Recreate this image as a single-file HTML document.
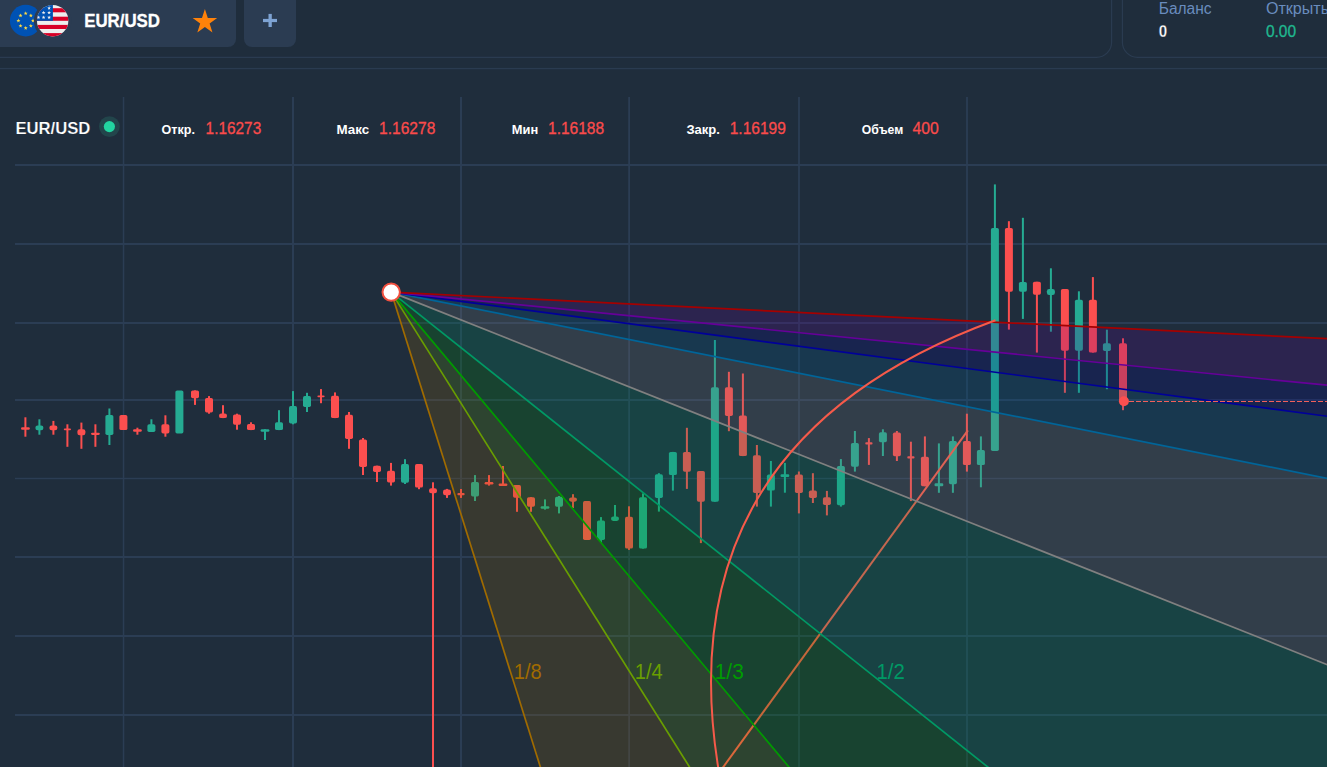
<!DOCTYPE html>
<html><head><meta charset="utf-8"><title>EUR/USD</title>
<style>
html,body{margin:0;padding:0;background:#1f2d3c;overflow:hidden}
svg{display:block}
text{font-family:"Liberation Sans",sans-serif}
</style></head><body>
<svg width="1327" height="767" viewBox="0 0 1327 767">
<rect width="1327" height="767" fill="#1f2d3c"/>

<path d="M0 0H236V39a8 8 0 0 1-8 8H0Z" fill="#2b3c52"/>
<path d="M244 0H296V39a8 8 0 0 1-8 8H252a8 8 0 0 1-8-8Z" fill="#2b3c52"/>
<path d="M-5 57.3H1096.6a15 15 0 0 0 15-15V-5" fill="none" stroke="#2a3b50" stroke-width="1.2"/>
<path d="M1122.4 -5V42.3a15 15 0 0 0 15 15H1340" fill="none" stroke="#2a3b50" stroke-width="1.2"/>
<rect x="0" y="67.9" width="1327" height="1.3" fill="#2a3b50"/>
<g>
<circle cx="25.7" cy="20.65" r="15.8" fill="#0052b4"/>
<polygon points="25.70,11.30 26.22,12.69 27.70,12.75 26.54,13.67 26.93,15.10 25.70,14.28 24.47,15.10 24.86,13.67 23.70,12.75 25.18,12.69" fill="#ffda44"/>
<polygon points="30.86,13.44 31.38,14.82 32.86,14.89 31.70,15.81 32.10,17.24 30.86,16.42 29.63,17.24 30.02,15.81 28.86,14.89 30.34,14.82" fill="#ffda44"/>
<polygon points="33.00,18.60 33.52,19.99 35.00,20.05 33.84,20.97 34.23,22.40 33.00,21.58 31.77,22.40 32.16,20.97 31.00,20.05 32.48,19.99" fill="#ffda44"/>
<polygon points="30.86,23.76 31.38,25.15 32.86,25.21 31.70,26.13 32.10,27.56 30.86,26.74 29.63,27.56 30.02,26.13 28.86,25.21 30.34,25.15" fill="#ffda44"/>
<polygon points="25.70,25.90 26.22,27.29 27.70,27.35 26.54,28.27 26.93,29.70 25.70,28.88 24.47,29.70 24.86,28.27 23.70,27.35 25.18,27.29" fill="#ffda44"/>
<polygon points="20.54,23.76 21.06,25.15 22.54,25.21 21.38,26.13 21.77,27.56 20.54,26.74 19.30,27.56 19.70,26.13 18.54,25.21 20.02,25.15" fill="#ffda44"/>
<polygon points="18.40,18.60 18.92,19.99 20.40,20.05 19.24,20.97 19.63,22.40 18.40,21.58 17.17,22.40 17.56,20.97 16.40,20.05 17.88,19.99" fill="#ffda44"/>
<polygon points="20.54,13.44 21.06,14.82 22.54,14.89 21.38,15.81 21.77,17.24 20.54,16.42 19.30,17.24 19.70,15.81 18.54,14.89 20.02,14.82" fill="#ffda44"/>
</g>
<circle cx="52.65" cy="20.7" r="18.8" fill="#2b3c52"/>
<clipPath id="us"><circle cx="52.65" cy="20.7" r="15.7"/></clipPath>
<g clip-path="url(#us)">
<rect x="36" y="4" width="34" height="34" fill="#eeeeee"/>
<rect x="36" y="8.2" width="34" height="4.10" fill="#d80027"/>
<rect x="36" y="16.7" width="34" height="4.10" fill="#d80027"/>
<rect x="36" y="24.9" width="34" height="4.10" fill="#d80027"/>
<rect x="36" y="33.1" width="34" height="4.40" fill="#d80027"/>
<rect x="36" y="4" width="16.9" height="16.8" fill="#0052b4"/>
<polygon points="49.10,6.10 49.59,7.42 51.00,7.48 49.90,8.36 50.28,9.72 49.10,8.94 47.92,9.72 48.30,8.36 47.20,7.48 48.61,7.42" fill="#eeeeee"/>
<polygon points="43.60,10.70 44.09,12.02 45.50,12.08 44.40,12.96 44.78,14.32 43.60,13.54 42.42,14.32 42.80,12.96 41.70,12.08 43.11,12.02" fill="#eeeeee"/>
<polygon points="49.10,10.70 49.59,12.02 51.00,12.08 49.90,12.96 50.28,14.32 49.10,13.54 47.92,14.32 48.30,12.96 47.20,12.08 48.61,12.02" fill="#eeeeee"/>
<polygon points="38.40,15.40 38.89,16.72 40.30,16.78 39.20,17.66 39.58,19.02 38.40,18.24 37.22,19.02 37.60,17.66 36.50,16.78 37.91,16.72" fill="#eeeeee"/>
<polygon points="43.60,15.40 44.09,16.72 45.50,16.78 44.40,17.66 44.78,19.02 43.60,18.24 42.42,19.02 42.80,17.66 41.70,16.78 43.11,16.72" fill="#eeeeee"/>
<polygon points="49.10,15.40 49.59,16.72 51.00,16.78 49.90,17.66 50.28,19.02 49.10,18.24 47.92,19.02 48.30,17.66 47.20,16.78 48.61,16.72" fill="#eeeeee"/>
</g>
<text x="84.2" y="27.1" font-size="18" font-weight="700" fill="#ffffff" stroke="#ffffff" stroke-width="0.3" textLength="75.8" lengthAdjust="spacingAndGlyphs">EUR/USD</text>
<polygon points="204.90,9.05 207.81,17.95 217.17,17.96 209.61,23.48 212.48,32.39 204.90,26.90 197.32,32.39 200.19,23.48 192.63,17.96 201.99,17.95" fill="#ff820a"/>
<rect x="263" y="18.9" width="14" height="3.2" fill="#7ea3d3"/><rect x="268.5" y="13.9" width="3.3" height="13.1" fill="#7ea3d3"/>
<text x="1158.7" y="13.8" font-size="16" fill="#698cbe" textLength="52.9" lengthAdjust="spacingAndGlyphs">Баланс</text>
<text x="1158.7" y="36.8" font-size="16" font-weight="700" fill="#ffffff" stroke="#1f2d3c" stroke-width="0.3" paint-order="fill stroke" textLength="8.4" lengthAdjust="spacingAndGlyphs">0</text>
<text x="1265.9" y="13.9" font-size="16" fill="#698cbe" textLength="66.3" lengthAdjust="spacingAndGlyphs">Открыты</text>
<text x="1265.9" y="37" font-size="16.5" fill="#1fb890" stroke="#1fb890" stroke-width="0.3" textLength="30.2" lengthAdjust="spacingAndGlyphs">0.00</text>
<rect x="122.80" y="97" width="1.5" height="670" fill="#2b3d54"/>
<rect x="292.00" y="97" width="2.0" height="670" fill="#2b3d54"/>
<rect x="460.00" y="97" width="2.0" height="670" fill="#2b3d54"/>
<rect x="628.20" y="97" width="1.8" height="670" fill="#2b3d54"/>
<rect x="798.10" y="97" width="1.8" height="670" fill="#2b3d54"/>
<rect x="966.10" y="97" width="1.8" height="670" fill="#2b3d54"/>
<rect x="15" y="164" width="1312" height="2.00" fill="#2b3d54"/>
<rect x="15" y="243" width="1312" height="2.00" fill="#2b3d54"/>
<rect x="15" y="322" width="1312" height="2.00" fill="#2b3d54"/>
<rect x="15" y="399" width="1312" height="2.00" fill="#2b3d54"/>
<rect x="15" y="477.8" width="1312" height="1.40" fill="#2b3d54"/>
<rect x="15" y="556" width="1312" height="2.00" fill="#2b3d54"/>
<rect x="15" y="635" width="1312" height="2.00" fill="#2b3d54"/>
<rect x="15" y="714" width="1312" height="2.00" fill="#2b3d54"/>
<text x="15.4" y="133.6" font-size="17" font-weight="700" fill="#ffffff" stroke="#1f2d3c" stroke-width="0.22" paint-order="fill stroke" textLength="75" lengthAdjust="spacingAndGlyphs">EUR/USD</text>
<circle cx="109.4" cy="126.6" r="10.4" fill="#22454b"/><circle cx="109.4" cy="126.6" r="5.6" fill="#22d3a0"/>
<text x="161.6" y="133.95" font-size="13" font-weight="700" fill="#ffffff" textLength="33.3" lengthAdjust="spacingAndGlyphs">Откр.</text>
<text x="205.6" y="133.95" font-size="16.6" fill="#fa4b4b" stroke="#fa4b4b" stroke-width="0.3" textLength="55.6" lengthAdjust="spacingAndGlyphs">1.16273</text>
<text x="336.4" y="133.95" font-size="13" font-weight="700" fill="#ffffff" textLength="32.7" lengthAdjust="spacingAndGlyphs">Макс</text>
<text x="379.1" y="133.95" font-size="16.6" fill="#fa4b4b" stroke="#fa4b4b" stroke-width="0.3" textLength="56.2" lengthAdjust="spacingAndGlyphs">1.16278</text>
<text x="511.8" y="133.95" font-size="13" font-weight="700" fill="#ffffff" textLength="26.4" lengthAdjust="spacingAndGlyphs">Мин</text>
<text x="548" y="133.95" font-size="16.6" fill="#fa4b4b" stroke="#fa4b4b" stroke-width="0.3" textLength="56.1" lengthAdjust="spacingAndGlyphs">1.16188</text>
<text x="686.4" y="133.95" font-size="13" font-weight="700" fill="#ffffff" textLength="33.5" lengthAdjust="spacingAndGlyphs">Закр.</text>
<text x="729.7" y="133.95" font-size="16.6" fill="#fa4b4b" stroke="#fa4b4b" stroke-width="0.3" textLength="56.1" lengthAdjust="spacingAndGlyphs">1.16199</text>
<text x="861.8" y="133.95" font-size="13" font-weight="700" fill="#ffffff" textLength="41.4" lengthAdjust="spacingAndGlyphs">Объем</text>
<text x="912.5" y="133.95" font-size="16.6" fill="#fa4b4b" stroke="#fa4b4b" stroke-width="0.3" textLength="26.3" lengthAdjust="spacingAndGlyphs">400</text>
<g>
<rect x="24.40" y="417.3" width="2" height="19.4" fill="#fb4f4f"/>
<rect x="21.00" y="427.2" width="8.8" height="2.5" rx="1.25" fill="#fb4f4f"/>
<rect x="38.40" y="419.3" width="2" height="15.4" fill="#25ab92"/>
<rect x="35.40" y="425.6" width="8" height="4.6" rx="2.2" fill="#25ab92"/>
<rect x="52.40" y="420.9" width="2" height="13.8" fill="#fb4f4f"/>
<rect x="49.40" y="425.6" width="8" height="4.6" rx="2.2" fill="#fb4f4f"/>
<rect x="66.40" y="424.3" width="2" height="22.5" fill="#fb4f4f"/>
<rect x="63.80" y="428.4" width="7.2" height="1.8" rx="0.9" fill="#fb4f4f"/>
<rect x="80.40" y="422.6" width="2" height="26.2" fill="#fb4f4f"/>
<rect x="77.40" y="429.2" width="8" height="6.0" rx="2.2" fill="#fb4f4f"/>
<rect x="94.40" y="424.3" width="2" height="22.5" fill="#fb4f4f"/>
<rect x="91.00" y="432.7" width="8.8" height="2.3" rx="1.25" fill="#fb4f4f"/>
<rect x="108.40" y="408.5" width="2" height="36.5" fill="#25ab92"/>
<rect x="105.40" y="415.1" width="8" height="19.9" rx="1.7" fill="#25ab92"/>
<rect x="119.40" y="415.1" width="8" height="15.0" rx="1.7" fill="#fb4f4f"/>
<rect x="136.40" y="427.7" width="2" height="7.0" fill="#fb4f4f"/>
<rect x="133.00" y="429.2" width="8.8" height="2.5" rx="1.25" fill="#fb4f4f"/>
<rect x="150.40" y="419.3" width="2" height="12.6" fill="#25ab92"/>
<rect x="147.40" y="424.3" width="8" height="7.6" rx="1.7" fill="#25ab92"/>
<rect x="164.40" y="415.3" width="2" height="21.4" fill="#fb4f4f"/>
<rect x="161.40" y="424.3" width="8" height="9.1" rx="1.7" fill="#fb4f4f"/>
<rect x="175.40" y="390.4" width="8" height="43.0" rx="1.7" fill="#25ab92"/>
<rect x="194.00" y="390.4" width="2" height="14.5" fill="#fb4f4f"/>
<rect x="191.00" y="390.4" width="8" height="7.9" rx="1.7" fill="#fb4f4f"/>
<rect x="208.00" y="396.1" width="2" height="17.6" fill="#fb4f4f"/>
<rect x="205.00" y="397.9" width="8" height="14.6" rx="1.7" fill="#fb4f4f"/>
<rect x="222.00" y="405.2" width="2" height="12.9" fill="#fb4f4f"/>
<rect x="219.00" y="413.5" width="8" height="4.6" rx="2.2" fill="#fb4f4f"/>
<rect x="236.00" y="413.7" width="2" height="16.0" fill="#fb4f4f"/>
<rect x="233.00" y="414.5" width="8" height="10.3" rx="1.7" fill="#fb4f4f"/>
<rect x="250.00" y="422.3" width="2" height="7.8" fill="#fb4f4f"/>
<rect x="247.00" y="423.9" width="8" height="6.2" rx="1.7" fill="#fb4f4f"/>
<rect x="264.00" y="429.2" width="2" height="10.8" fill="#25ab92"/>
<rect x="260.60" y="429.2" width="8.8" height="2.5" rx="1.25" fill="#25ab92"/>
<rect x="278.00" y="410.2" width="2" height="19.9" fill="#25ab92"/>
<rect x="275.00" y="422.3" width="8" height="7.8" rx="1.7" fill="#25ab92"/>
<rect x="292.00" y="391.1" width="2" height="33.2" fill="#25ab92"/>
<rect x="289.00" y="406.0" width="8" height="17.4" rx="1.7" fill="#25ab92"/>
<rect x="306.00" y="392.8" width="2" height="19.2" fill="#25ab92"/>
<rect x="303.00" y="396.1" width="8" height="10.9" rx="1.7" fill="#25ab92"/>
<rect x="320.00" y="389.1" width="2" height="14.1" fill="#fb4f4f"/>
<rect x="317.40" y="395.4" width="7.2" height="1.8" rx="0.9" fill="#fb4f4f"/>
<rect x="334.00" y="392.4" width="2" height="25.7" fill="#fb4f4f"/>
<rect x="331.00" y="395.7" width="8" height="22.4" rx="1.7" fill="#fb4f4f"/>
<rect x="348.00" y="412.0" width="2" height="36.8" fill="#fb4f4f"/>
<rect x="345.00" y="414.8" width="8" height="24.1" rx="1.7" fill="#fb4f4f"/>
<rect x="362.00" y="438.0" width="2" height="37.0" fill="#fb4f4f"/>
<rect x="359.00" y="439.4" width="8" height="27.6" rx="1.7" fill="#fb4f4f"/>
<rect x="376.00" y="465.7" width="2" height="16.3" fill="#fb4f4f"/>
<rect x="373.00" y="465.7" width="8" height="6.3" rx="1.7" fill="#fb4f4f"/>
<rect x="390.00" y="462.9" width="2" height="22.7" fill="#fb4f4f"/>
<rect x="387.00" y="470.8" width="8" height="11.7" rx="1.7" fill="#fb4f4f"/>
<rect x="404.00" y="459.2" width="2" height="24.8" fill="#25ab92"/>
<rect x="401.00" y="464.1" width="8" height="18.7" rx="1.7" fill="#25ab92"/>
<rect x="418.00" y="464.1" width="2" height="25.1" fill="#fb4f4f"/>
<rect x="415.00" y="464.1" width="8" height="23.5" rx="1.7" fill="#fb4f4f"/>
<rect x="432.00" y="482.3" width="2" height="284.7" fill="#fb4f4f"/>
<rect x="429.00" y="488.3" width="8" height="5.0" rx="2.2" fill="#fb4f4f"/>
<rect x="446.00" y="488.9" width="2" height="9.0" fill="#fb4f4f"/>
<rect x="443.00" y="489.6" width="8" height="5.6" rx="2.2" fill="#fb4f4f"/>
<rect x="460.00" y="489.0" width="2" height="8.9" fill="#fb4f4f"/>
<rect x="457.40" y="493.1" width="7.2" height="2.1" rx="0.9" fill="#fb4f4f"/>
<rect x="474.00" y="475.1" width="2" height="25.9" fill="#25ab92"/>
<rect x="471.00" y="481.9" width="8" height="14.5" rx="1.7" fill="#25ab92"/>
<rect x="488.00" y="475.1" width="2" height="10.5" fill="#fb4f4f"/>
<rect x="484.60" y="481.9" width="8.8" height="2.5" rx="1.25" fill="#fb4f4f"/>
<rect x="502.00" y="466.0" width="2" height="19.9" fill="#fb4f4f"/>
<rect x="498.60" y="483.4" width="8.8" height="2.5" rx="1.25" fill="#fb4f4f"/>
<rect x="516.00" y="485.1" width="2" height="26.7" fill="#fb4f4f"/>
<rect x="513.00" y="485.1" width="8" height="12.6" rx="1.7" fill="#fb4f4f"/>
<rect x="530.00" y="497.2" width="2" height="14.6" fill="#fb4f4f"/>
<rect x="527.00" y="497.2" width="8" height="9.6" rx="1.7" fill="#fb4f4f"/>
<rect x="544.00" y="499.4" width="2" height="10.2" fill="#25ab92"/>
<rect x="540.60" y="506.3" width="8.8" height="2.5" rx="1.25" fill="#25ab92"/>
<rect x="558.00" y="496.0" width="2" height="17.4" fill="#25ab92"/>
<rect x="555.00" y="496.7" width="8" height="10.1" rx="1.7" fill="#25ab92"/>
<rect x="572.00" y="494.2" width="2" height="13.8" fill="#fb4f4f"/>
<rect x="569.00" y="497.5" width="8" height="4.2" rx="2.2" fill="#fb4f4f"/>
<rect x="583.00" y="501.0" width="8" height="39.0" rx="1.7" fill="#fb4f4f"/>
<rect x="600.00" y="517.1" width="2" height="25.7" fill="#25ab92"/>
<rect x="597.00" y="520.4" width="8" height="19.6" rx="1.7" fill="#25ab92"/>
<rect x="614.00" y="505.0" width="2" height="15.9" fill="#25ab92"/>
<rect x="611.00" y="516.6" width="8" height="4.3" rx="2.2" fill="#25ab92"/>
<rect x="628.00" y="506.3" width="2" height="43.6" fill="#fb4f4f"/>
<rect x="625.00" y="516.8" width="8" height="31.8" rx="1.7" fill="#fb4f4f"/>
<rect x="642.00" y="493.4" width="2" height="55.2" fill="#25ab92"/>
<rect x="639.00" y="497.2" width="8" height="51.4" rx="1.7" fill="#25ab92"/>
<rect x="657.90" y="473.2" width="2" height="38.4" fill="#25ab92"/>
<rect x="654.90" y="474.3" width="8" height="23.7" rx="1.7" fill="#25ab92"/>
<rect x="671.90" y="451.9" width="2" height="38.7" fill="#25ab92"/>
<rect x="668.90" y="451.9" width="8" height="23.2" rx="1.7" fill="#25ab92"/>
<rect x="685.90" y="427.8" width="2" height="61.1" fill="#fb4f4f"/>
<rect x="682.90" y="451.9" width="8" height="19.9" rx="1.7" fill="#fb4f4f"/>
<rect x="699.90" y="471.0" width="2" height="72.1" fill="#fb4f4f"/>
<rect x="696.90" y="471.0" width="8" height="30.7" rx="1.7" fill="#fb4f4f"/>
<rect x="713.90" y="340.0" width="2" height="161.7" fill="#25ab92"/>
<rect x="710.90" y="387.2" width="8" height="114.5" rx="1.7" fill="#25ab92"/>
<rect x="727.90" y="371.8" width="2" height="59.4" fill="#fb4f4f"/>
<rect x="724.90" y="387.2" width="8" height="28.7" rx="1.7" fill="#fb4f4f"/>
<rect x="741.90" y="373.5" width="2" height="82.6" fill="#fb4f4f"/>
<rect x="738.90" y="415.4" width="8" height="40.7" rx="1.7" fill="#fb4f4f"/>
<rect x="755.90" y="445.0" width="2" height="61.6" fill="#fb4f4f"/>
<rect x="752.90" y="455.3" width="8" height="37.7" rx="1.7" fill="#fb4f4f"/>
<rect x="769.90" y="461.0" width="2" height="45.6" fill="#25ab92"/>
<rect x="766.90" y="474.5" width="8" height="16.1" rx="1.7" fill="#25ab92"/>
<rect x="783.90" y="462.9" width="2" height="29.8" fill="#25ab92"/>
<rect x="780.50" y="474.3" width="8.8" height="2.7" rx="1.25" fill="#25ab92"/>
<rect x="797.90" y="471.5" width="2" height="41.9" fill="#fb4f4f"/>
<rect x="794.90" y="474.5" width="8" height="18.5" rx="1.7" fill="#fb4f4f"/>
<rect x="811.90" y="473.2" width="2" height="29.8" fill="#fb4f4f"/>
<rect x="808.90" y="490.6" width="8" height="7.4" rx="1.7" fill="#fb4f4f"/>
<rect x="825.90" y="490.9" width="2" height="24.5" fill="#fb4f4f"/>
<rect x="822.90" y="497.2" width="8" height="7.8" rx="1.7" fill="#fb4f4f"/>
<rect x="839.90" y="459.1" width="2" height="47.5" fill="#25ab92"/>
<rect x="836.90" y="466.0" width="8" height="39.2" rx="1.7" fill="#25ab92"/>
<rect x="853.90" y="431.0" width="2" height="40.6" fill="#25ab92"/>
<rect x="850.90" y="443.0" width="8" height="23.8" rx="1.7" fill="#25ab92"/>
<rect x="867.90" y="438.1" width="2" height="26.8" fill="#fb4f4f"/>
<rect x="865.30" y="442.2" width="7.2" height="2.2" rx="0.9" fill="#fb4f4f"/>
<rect x="881.90" y="429.3" width="2" height="26.7" fill="#25ab92"/>
<rect x="878.90" y="432.3" width="8" height="9.9" rx="1.7" fill="#25ab92"/>
<rect x="895.90" y="431.0" width="2" height="30.0" fill="#fb4f4f"/>
<rect x="892.90" y="432.6" width="8" height="23.7" rx="1.7" fill="#fb4f4f"/>
<rect x="909.90" y="441.7" width="2" height="59.4" fill="#fb4f4f"/>
<rect x="907.30" y="456.3" width="7.2" height="2.2" rx="0.9" fill="#fb4f4f"/>
<rect x="923.90" y="436.4" width="2" height="49.8" fill="#fb4f4f"/>
<rect x="920.90" y="456.8" width="8" height="29.4" rx="1.7" fill="#fb4f4f"/>
<rect x="937.90" y="443.4" width="2" height="49.4" fill="#25ab92"/>
<rect x="934.50" y="483.3" width="8.8" height="2.9" rx="1.25" fill="#25ab92"/>
<rect x="951.90" y="436.4" width="2" height="56.4" fill="#25ab92"/>
<rect x="948.90" y="441.1" width="8" height="43.1" rx="1.7" fill="#25ab92"/>
<rect x="965.90" y="413.7" width="2" height="57.9" fill="#fb4f4f"/>
<rect x="962.90" y="441.1" width="8" height="24.0" rx="1.7" fill="#fb4f4f"/>
<rect x="979.90" y="436.4" width="2" height="50.9" fill="#25ab92"/>
<rect x="976.90" y="450.0" width="8" height="15.1" rx="1.7" fill="#25ab92"/>
<rect x="993.90" y="184.4" width="2" height="266.6" fill="#25ab92"/>
<rect x="990.90" y="228.0" width="8" height="223.0" rx="1.7" fill="#25ab92"/>
<rect x="1007.90" y="221.2" width="2" height="108.4" fill="#fb4f4f"/>
<rect x="1004.90" y="228.0" width="8" height="63.8" rx="1.7" fill="#fb4f4f"/>
<rect x="1021.90" y="217.8" width="2" height="101.1" fill="#25ab92"/>
<rect x="1018.90" y="281.9" width="8" height="9.9" rx="1.7" fill="#25ab92"/>
<rect x="1035.90" y="281.8" width="2" height="70.8" fill="#fb4f4f"/>
<rect x="1032.90" y="281.8" width="8" height="12.9" rx="1.7" fill="#fb4f4f"/>
<rect x="1049.90" y="268.3" width="2" height="63.4" fill="#25ab92"/>
<rect x="1046.90" y="289.1" width="8" height="5.9" rx="2.2" fill="#25ab92"/>
<rect x="1063.90" y="289.1" width="2" height="103.7" fill="#fb4f4f"/>
<rect x="1060.90" y="289.1" width="8" height="61.7" rx="1.7" fill="#fb4f4f"/>
<rect x="1077.90" y="291.3" width="2" height="101.5" fill="#25ab92"/>
<rect x="1074.90" y="299.7" width="8" height="51.1" rx="1.7" fill="#25ab92"/>
<rect x="1091.90" y="277.1" width="2" height="75.5" fill="#fb4f4f"/>
<rect x="1088.90" y="299.7" width="8" height="52.9" rx="1.7" fill="#fb4f4f"/>
<rect x="1105.90" y="329.7" width="2" height="59.5" fill="#25ab92"/>
<rect x="1102.90" y="343.3" width="8" height="7.7" rx="1.7" fill="#25ab92"/>
<rect x="1122.00" y="338.3" width="2" height="71.9" fill="#fb4f4f"/>
<rect x="1119.00" y="343.3" width="8" height="58.2" rx="1.7" fill="#fb4f4f"/>
</g>
<line x1="967.9" y1="430.4" x2="716" y2="777" stroke="#f65a4a" stroke-width="2"/>
<g>
<polygon points="391.2,292.1 3391.2,9844.1 3391.2,5068.1" fill="#A06B00" fill-opacity="0.2"/>
<polygon points="391.2,292.1 3391.2,5068.1 3391.2,3874.1" fill="#699E00" fill-opacity="0.2"/>
<polygon points="391.2,292.1 3391.2,3874.1 3391.2,2680.1" fill="#009B00" fill-opacity="0.2"/>
<polygon points="391.2,292.1 3391.2,2680.1 3391.2,1486.1" fill="#009965" fill-opacity="0.2"/>
<polygon points="391.2,292.1 3391.2,1486.1 3391.2,889.1" fill="#808080" fill-opacity="0.2"/>
<polygon points="391.2,292.1 3391.2,889.1 3391.2,690.1" fill="#006599" fill-opacity="0.2"/>
<polygon points="391.2,292.1 3391.2,690.1 3391.2,590.6" fill="#000099" fill-opacity="0.2"/>
<polygon points="391.2,292.1 3391.2,590.6 3391.2,441.4" fill="#660099" fill-opacity="0.2"/>
<line x1="391.2" y1="292.1" x2="3391.2" y2="9844.1" stroke="#A06B00" stroke-width="1.7"/>
<line x1="391.2" y1="292.1" x2="3391.2" y2="5068.1" stroke="#699E00" stroke-width="1.7"/>
<line x1="391.2" y1="292.1" x2="3391.2" y2="3874.1" stroke="#009B00" stroke-width="1.7"/>
<line x1="391.2" y1="292.1" x2="3391.2" y2="2680.1" stroke="#009965" stroke-width="1.7"/>
<line x1="391.2" y1="292.1" x2="3391.2" y2="1486.1" stroke="#808080" stroke-width="1.7"/>
<line x1="391.2" y1="292.1" x2="3391.2" y2="889.1" stroke="#006599" stroke-width="1.7"/>
<line x1="391.2" y1="292.1" x2="3391.2" y2="690.1" stroke="#000099" stroke-width="1.7"/>
<line x1="391.2" y1="292.1" x2="3391.2" y2="590.6" stroke="#660099" stroke-width="1.7"/>
<line x1="391.2" y1="292.1" x2="3391.2" y2="441.4" stroke="#A50000" stroke-width="1.7"/>
</g>
<text x="513.7" y="679.3" font-size="21.5" fill="#A06B00" textLength="28.0" lengthAdjust="spacingAndGlyphs">1/8</text>
<text x="634.7" y="679.3" font-size="21.5" fill="#699E00" textLength="28.0" lengthAdjust="spacingAndGlyphs">1/4</text>
<text x="714.7" y="679.3" font-size="21.5" fill="#009B00" textLength="29.1" lengthAdjust="spacingAndGlyphs">1/3</text>
<text x="876.5" y="679.3" font-size="21.5" fill="#009965" textLength="28.3" lengthAdjust="spacingAndGlyphs">1/2</text>
<path d="M995.5 320.3Q658.8 443.5 720.6 781.5" fill="none" stroke="#f65a4a" stroke-width="2"/>
<line x1="1129" y1="401.5" x2="1327" y2="401.5" stroke="#f2605a" stroke-width="1.2" stroke-dasharray="5 2"/>
<circle cx="1123.9" cy="401.3" r="5" fill="#fb4f4f"/>
<circle cx="391.2" cy="292.1" r="8.7" fill="#ffffff" stroke="#f0503f" stroke-width="2"/>
</svg></body></html>
